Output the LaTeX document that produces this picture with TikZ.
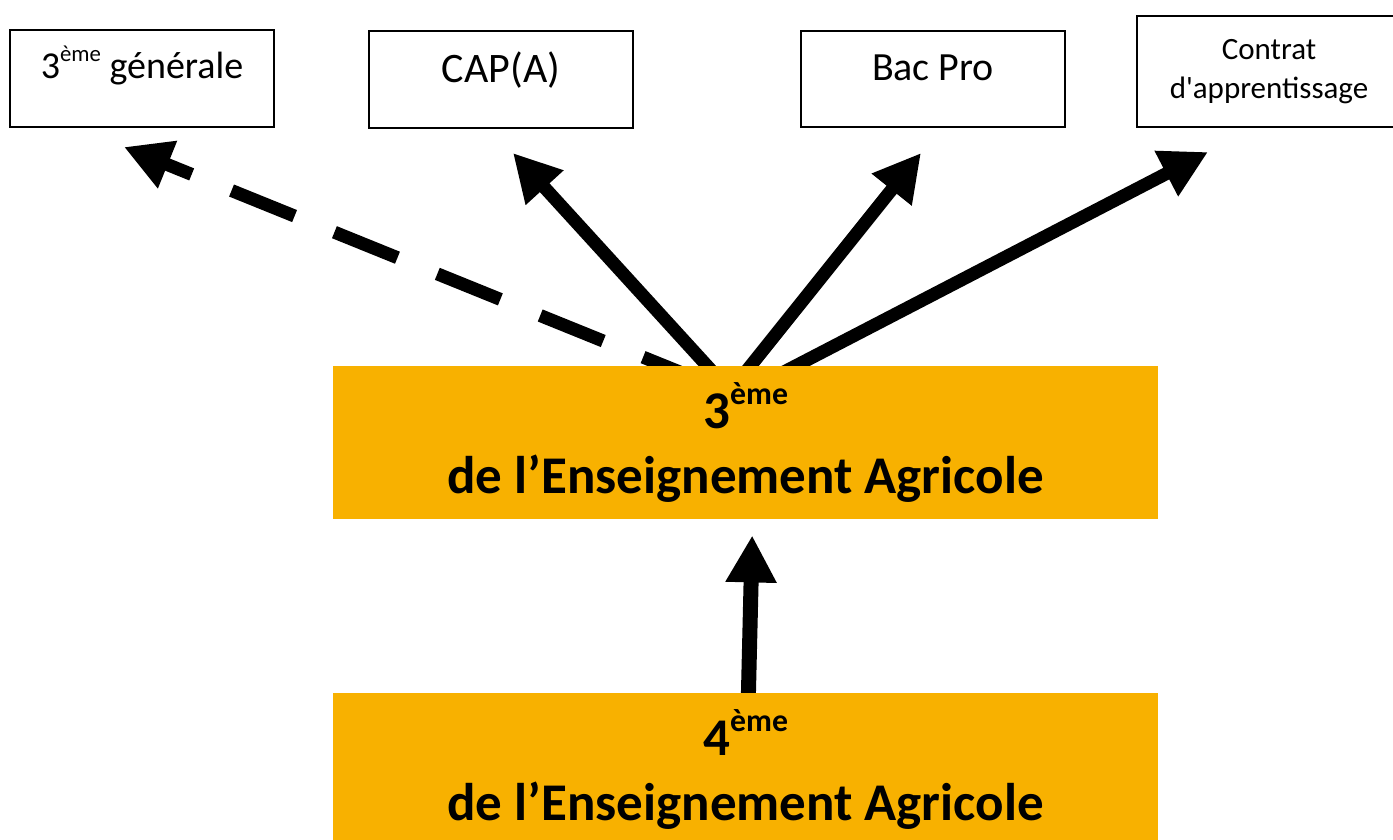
\documentclass[tikz,border=0pt]{standalone}
\usepackage{fontspec}
\setmainfont{Carlito}
\usetikzlibrary{positioning,calc,arrows.meta,backgrounds}
\definecolor{agri}{RGB}{248,177,0}
\newcommand\exposant[1]{\raisebox{0.45em}{\scalebox{0.6}{#1}}}

\tikzset{
  filiere/.style={draw, line width=2pt, anchor=north west, inner ysep=0pt, minimum width=264pt},
  niveau/.style={fill=agri, anchor=north west, minimum width=825pt, minimum height=153pt,
    align=center, font=\fontsize{53}{65}\selectfont\bfseries},
  choix/.style={line width=13pt, ->},
}

\begin{document}
\begin{tikzpicture}[x=1pt, y=-1pt, >={Triangle[length=47pt,width=48pt]}]
    \clip (0,0) rectangle (1393,840);

    % Orientations
    \node[filiere, text height=49pt, text depth=48pt, font=\fontsize{38}{46}\selectfont] (gen) at (9,29) {3\exposant{ème} générale};
    \node[filiere, text height=52pt, text depth=45pt, font=\fontsize{42}{50}\selectfont] (cap) at (368,30) {CAP(A)};
    \node[filiere, text height=50pt, text depth=46pt, font=\fontsize{40}{48}\selectfont] (bac) at (800,30) {Bac Pro};
    \node[filiere, minimum height=111pt, align=center, font=\fontsize{31}{39}\selectfont] (contrat) at (1136,15) {Contrat\\d\textquotesingle apprentissage};

    % Niveaux
    \node[niveau] (trois) at (333,366) {3\exposant{ème}\\de l’Enseignement Agricole};
    \node[niveau] (quatre) at (333,693) {4\exposant{ème}\\de l’Enseignement Agricole};

    % Pointes des fleches
    \coordinate (pgen) at ($(gen.south)+(-18,19)$);
    \coordinate (pcap) at ($(cap.south)+(12,24)$);
    \coordinate (pbac) at ($(bac.south)+(-12,25)$);
    \coordinate (pcon) at ($(contrat.south)+(-61,24)$);

    \begin{pgfonlayer}{background}
        \draw[choix, dash pattern=on 68pt off 43pt, dash phase=91.5pt] ($(trois.north)+(-21.5,24)$) -- (pgen);
        \draw[choix] ($(trois.north)+(-16.5,24)$) -- (pcap);
        \draw[choix] ($(trois.north)+(-14.5,24)$) -- (pbac);
        \draw[choix] ($(trois.north)+(3.5,24)$) -- (pcon);
        \draw[choix, line width=15pt] ($(quatre.north)+(2.5,10)$) -- ($(trois.south)+(6.5,16)$);
    \end{pgfonlayer}
\end{tikzpicture}
\end{document}
